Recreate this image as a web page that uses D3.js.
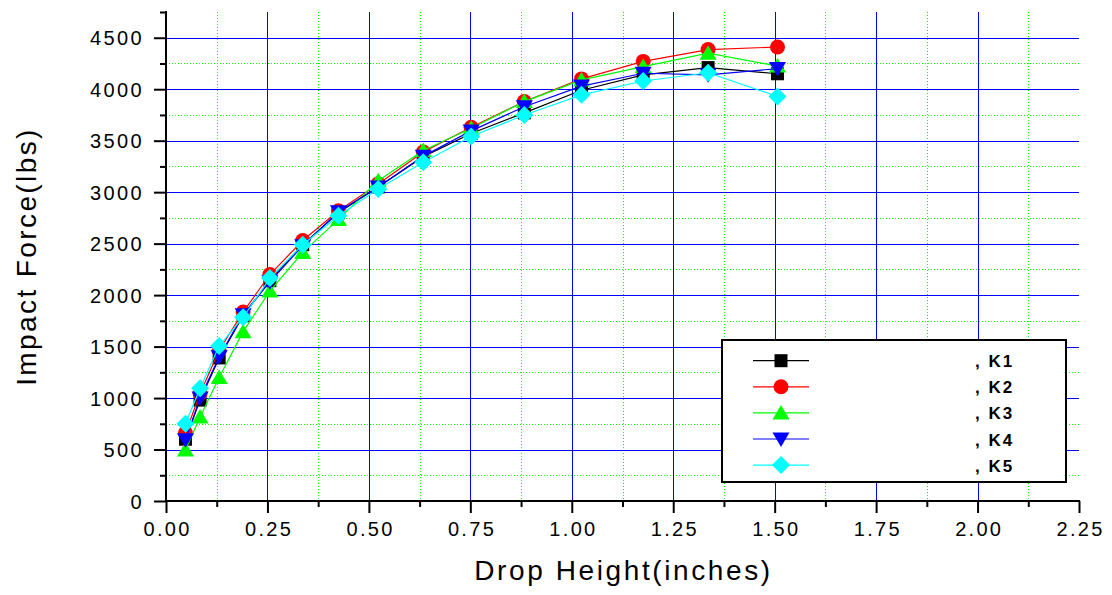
<!DOCTYPE html>
<html>
<head>
<meta charset="utf-8">
<script src="https://cdn.jsdelivr.net/npm/d3@7"></script>
<style>
  html, body { margin: 0; padding: 0; background: #fff; }
  svg { display: block; }
  text { font-family: "Liberation Sans", Arial, sans-serif; }
</style>
</head>
<body>
<script>
// ---- data ----
const dropHeight = [0.048, 0.084, 0.131, 0.190, 0.256, 0.337, 0.425, 0.523, 0.634, 0.752, 0.883, 1.024, 1.176, 1.336, 1.507];
const seriesNames = [", K1", ", K2", ", K3", ", K4", ", K5"];
const k1 = [600, 980, 1390, 1800, 2140, 2490, 2800, 3050, 3345, 3570, 3770, 3990, 4140, 4210, 4150];
const k2 = [660, 1045, 1465, 1835, 2200, 2530, 2820, 3080, 3390, 3630, 3880, 4100, 4270, 4385, 4410];
const k3 = [495, 815, 1200, 1645, 2040, 2415, 2735, 3110, 3405, 3620, 3880, 4090, 4220, 4350, 4225];
const k4 = [595, 1000, 1400, 1810, 2130, 2480, 2810, 3050, 3350, 3595, 3830, 4030, 4155, 4140, 4200];
const k5 = [750, 1095, 1505, 1785, 2165, 2490, 2770, 3030, 3290, 3540, 3750, 3945, 4080, 4160, 3930];
const seriesValues = [k1, k2, k3, k4, k5];
const xTicks = [0, 0.25, 0.5, 0.75, 1.0, 1.25, 1.5, 1.75, 2.0, 2.25];
const yTicks = [0, 500, 1000, 1500, 2000, 2500, 3000, 3500, 4000, 4500];
const xLabel = "Drop Height(inches)";
const yLabel = "Impact Force(lbs)";

// ---- styles ----
const colors = ["#000000", "#ff0000", "#00ff00", "#0000ff", "#00ffff"];
const shapes = ["square", "circle", "triangleUp", "triangleDown", "diamond"];

const W = 1112, H = 595;
const pLeft = 166, pRight = 1079, pTop = 12, pBottom = 501;

const svg = d3.select("body").append("svg").attr("width", W).attr("height", H);

const x = d3.scaleLinear().domain([0, 2.25]).range([pLeft, pRight]);
const y = d3.scaleLinear().domain([0, 4750]).range([pBottom, pTop]);

// grid
const xMinor = d3.range(0.125, 2.25, 0.25);
const yMinor = d3.range(250, 4751, 500);
const g = svg.append("g");
g.selectAll(".gxm").data(xMinor).enter().append("line")
  .attr("x1", d => Math.round(x(d)) + 0.5).attr("x2", d => Math.round(x(d)) + 0.5)
  .attr("y1", pTop).attr("y2", pBottom)
  .attr("stroke", "#00ff00").attr("stroke-width", 1).attr("stroke-dasharray", "1,2");
g.selectAll(".gym").data(yMinor.filter(v => v < 4750)).enter().append("line")
  .attr("y1", d => Math.round(y(d)) + 0.5).attr("y2", d => Math.round(y(d)) + 0.5)
  .attr("x1", pLeft).attr("x2", pRight)
  .attr("stroke", "#00ff00").attr("stroke-width", 1).attr("stroke-dasharray", "1,2");
g.selectAll(".gx").data(xTicks.filter(v => v > 0 && v < 2.25)).enter().append("line")
  .attr("x1", d => Math.round(x(d)) + 0.5).attr("x2", d => Math.round(x(d)) + 0.5)
  .attr("y1", pTop).attr("y2", pBottom)
  .attr("stroke", "#0000ff").attr("stroke-width", 1);
g.selectAll(".gy").data(yTicks.filter(v => v > 0)).enter().append("line")
  .attr("y1", d => Math.round(y(d)) + 0.5).attr("y2", d => Math.round(y(d)) + 0.5)
  .attr("x1", pLeft).attr("x2", pRight)
  .attr("stroke", "#0000ff").attr("stroke-width", 1);

// axes
const xAxis = d3.axisBottom(x).tickValues(xTicks).tickFormat(d3.format(".2f")).tickSize(12).tickSizeOuter(0);
const yAxis = d3.axisLeft(y).tickValues(yTicks).tickFormat(d3.format("d")).tickSize(12).tickSizeOuter(0);
const xMinorAxis = d3.axisBottom(x).tickValues(xMinor).tickFormat("").tickSize(6).tickSizeOuter(0);
const yMinorAxis = d3.axisLeft(y).tickValues(yMinor).tickFormat("").tickSize(6).tickSizeOuter(0);

function styleAxis(sel) {
  sel.selectAll("path").attr("stroke", "#000").attr("stroke-width", 2);
  sel.selectAll("line").attr("stroke", "#000").attr("stroke-width", 2);
}
const gxMinor = svg.append("g").attr("transform", `translate(0,${pBottom})`).call(xMinorAxis);
styleAxis(gxMinor); gxMinor.select("path").remove();
const gyMinor = svg.append("g").attr("transform", `translate(${pLeft},0)`).call(yMinorAxis);
styleAxis(gyMinor); gyMinor.select("path").remove();

const gx = svg.append("g").attr("transform", `translate(0,${pBottom})`).call(xAxis);
styleAxis(gx);
gx.select("path").attr("d", `M${pLeft - 1},0H${pRight + 1}`);
gx.selectAll("text").attr("fill", "#000").attr("font-size", 20)
  .attr("font-family", "Liberation Sans, Arial, sans-serif")
  .attr("letter-spacing", "2.3px").attr("dx", "1.15px").attr("y", 35).attr("dy", 0);

const gy = svg.append("g").attr("transform", `translate(${pLeft},0)`).call(yAxis);
styleAxis(gy);
gy.select("path").attr("d", `M0,${pTop - 1}V${pBottom + 1}`);
gy.selectAll("text").attr("fill", "#000").attr("font-size", 20)
  .attr("font-family", "Liberation Sans, Arial, sans-serif")
  .attr("letter-spacing", "2.4px").attr("x", -22).attr("dy", "0.36em");

// axis titles
svg.append("text").attr("x", (pLeft + pRight) / 2 + 1).attr("y", 580)
  .attr("text-anchor", "middle").attr("font-size", 28).attr("letter-spacing", "2.6px")
  .attr("fill", "#000").text(xLabel);
svg.append("text").attr("transform", `translate(36,${(pTop + pBottom) / 2}) rotate(-90)`)
  .attr("text-anchor", "middle").attr("font-size", 28).attr("letter-spacing", "2.4px")
  .attr("fill", "#000").text(yLabel);

// marker paths
function markerPath(shape) {
  switch (shape) {
    case "square": return "M-6.5,-6.5H6.5V6.5H-6.5Z";
    case "circle": return d3.symbol(d3.symbolCircle, Math.PI * 7.5 * 7.5)();
    case "triangleUp": return "M0,-8L8.5,6.5H-8.5Z";
    case "triangleDown": return "M0,8L8.5,-6.5H-8.5Z";
    case "diamond": return "M0,-9L9,0L0,9L-9,0Z";
  }
}

const line = d3.line().x(d => x(d[0])).y(d => y(d[1]));
seriesValues.forEach((vals, i) => {
  const pts = dropHeight.map((h, j) => [h, vals[j]]);
  svg.append("path").datum(pts).attr("d", line)
    .attr("fill", "none").attr("stroke", colors[i]).attr("stroke-width", 1.2);
  svg.append("g").selectAll("path").data(pts).enter().append("path")
    .attr("transform", d => `translate(${x(d[0])},${y(d[1])})`)
    .attr("d", markerPath(shapes[i])).attr("fill", colors[i]);
});

// legend
const lg = svg.append("g");
lg.append("rect").attr("x", 722).attr("y", 340).attr("width", 344).attr("height", 142)
  .attr("fill", "#fff").attr("stroke", "#000").attr("stroke-width", 2);
seriesNames.forEach((name, i) => {
  const cy = 360.7 + i * 26.1;
  lg.append("line").attr("x1", 753).attr("x2", 809).attr("y1", cy).attr("y2", cy)
    .attr("stroke", colors[i]).attr("stroke-width", 1.2);
  lg.append("path").attr("transform", `translate(781,${cy})`)
    .attr("d", markerPath(shapes[i])).attr("fill", colors[i]);
  lg.append("text").attr("x", 975).attr("y", cy + 6.5)
    .attr("font-size", 17).attr("font-weight", "bold").attr("letter-spacing", "2px")
    .attr("fill", "#000").text(name);
});
</script>
</body>
</html>
